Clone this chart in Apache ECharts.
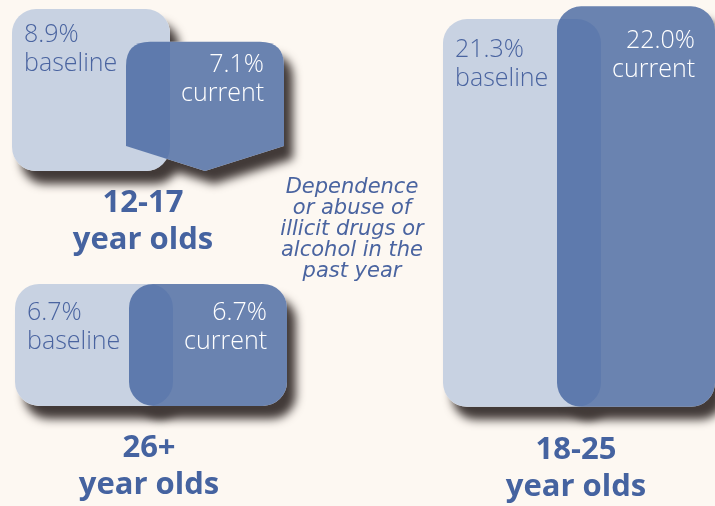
<!DOCTYPE html>
<html>
<head>
<meta charset="utf-8">
<style>
  html, body { margin: 0; padding: 0; background: #fdf8f2; }
  #chart { width: 715px; height: 506px; }
</style>
<script src="https://cdn.jsdelivr.net/npm/echarts@6/dist/echarts.min.js"></script>
</head>
<body>
<div id="chart"></div>
<script>
const groups = ['12-17', '26+', '18-25']
const baselineValues = [8.9, 6.7, 21.3]
const currentValues = [7.1, 6.7, 22.0]
const noteLines = ['Dependence', 'or abuse of', 'illicit drugs or', 'alcohol in the', 'past year']

// layout: x in px, y base in percent points on the hidden value axis
const groupLeft = [12, 15, 443]
const groupBase = [18.4, 5.5, 5.45]
const groupShape = ['arrow', 'rect', 'rect']
const titlePos = [[143, 185], [149, 430], [576, 432]]
const labelDy = [[11, 9], [14, 14], [16, 20]]
const boxWidth = 158
const currentShift = 114

const BG = '#fdf8f2'
const BASE_COLOR = '#c8d2e2'
const CUR_COLOR = 'rgba(64,97,157,0.78)'
const TEXT_BLUE = '#4a64a0'
const FONT = '"Open Sans", sans-serif'

const seriesData = []
groups.forEach((g, i) => {
  seriesData.push([i, 0, baselineValues[i]])
  seriesData.push([i, 1, currentValues[i]])
})

function shapeEl (kind, g, x, y, w, h, style, z2) {
  if (kind === 1 && groupShape[g] === 'arrow') {
    const r = 24
    const d = 25
    return {
      type: 'path',
      z2,
      shape: {
        pathData: `M${x},${y + r} Q${x},${y} ${x + r},${y} L${x + w - r},${y} Q${x + w},${y} ${x + w},${y + r} ` +
          `L${x + w},${y + h - d} L${x + w / 2},${y + h} L${x},${y + h - d} Z`
      },
      style
    }
  }
  return { type: 'rect', z2, shape: { x, y, width: w, height: h, r: 24 }, style }
}

function renderItem (params, api) {
  const g = api.value(0)
  const kind = api.value(1)
  const v = api.value(2)
  const x0 = groupLeft[g] + (kind ? currentShift : 0)
  const p0 = api.coord([x0, groupBase[g] + v])
  const p1 = api.coord([x0 + boxWidth, groupBase[g]])
  const x = p0[0]
  const y = p0[1]
  const w = p1[0] - p0[0]
  const h = p1[1] - p0[1]

  // shadow layer sits under both boxes
  const shadow = shapeEl(kind, g, x, y, w, h, {
    fill: BG,
    shadowBlur: 10,
    shadowOffsetX: 9,
    shadowOffsetY: 13,
    shadowColor: 'rgba(66,58,56,1)'
  }, 0)
  const box = shapeEl(kind, g, x, y, w, h, { fill: kind ? CUR_COLOR : BASE_COLOR }, kind ? 2 : 1)
  const label = {
    type: 'text',
    z2: 3,
    style: {
      text: v.toFixed(1) + '%\n' + (kind ? 'current' : 'baseline'),
      x: kind ? x + w - 20 : x + 12,
      y: y + labelDy[g][kind],
      align: kind ? 'right' : 'left',
      verticalAlign: 'top',
      fill: kind ? '#ffffff' : TEXT_BLUE,
      fontSize: 25,
      lineHeight: 29,
      fontWeight: 300,
      fontFamily: FONT
    }
  }
  return { type: 'group', children: [shadow, box, label] }
}

const chart = echarts.init(document.getElementById('chart'))
chart.setOption({
  backgroundColor: BG,
  animation: false,
  grid: { left: 0, right: 0, top: 0, bottom: 0 },
  xAxis: { type: 'value', min: 0, max: 715, show: false },
  yAxis: { type: 'value', min: 0, max: 27.8, show: false },
  series: [{
    type: 'custom',
    silent: true,
    renderItem,
    encode: { x: 0, y: 2 },
    data: seriesData
  }],
  graphic: [
    ...groups.map((g, i) => ({
      type: 'text',
      x: titlePos[i][0],
      y: titlePos[i][1],
      silent: true,
      style: {
        text: g + '\nyear olds',
        align: 'center',
        verticalAlign: 'top',
        fill: '#4563a0',
        fontSize: 31,
        lineHeight: 37,
        fontWeight: 'bold',
        fontFamily: FONT
      }
    })),
    {
      type: 'text',
      x: 352,
      y: 177,
      silent: true,
      style: {
        text: noteLines.join('\n'),
        align: 'center',
        verticalAlign: 'top',
        fill: TEXT_BLUE,
        fontSize: 21,
        lineHeight: 21,
        fontStyle: 'italic',
        fontWeight: 200,
        fontFamily: '"DejaVu Sans", sans-serif'
      }
    }
  ]
})
</script>
</body>
</html>
